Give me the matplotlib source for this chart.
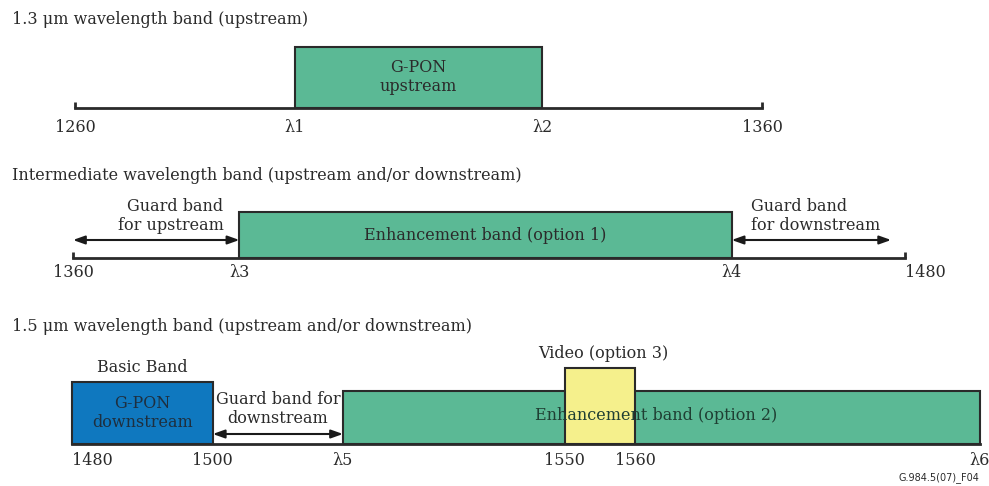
import matplotlib.pyplot as plt
from matplotlib.patches import Rectangle

# --- data (wavelengths in nm, lambda values) ---
row1_ticks = [1260, 1292, 1328, 1360]
row1_labels = ['1260', 'λ1', 'λ2', '1360']
gpon_up = (1292, 1328)

row2_ticks = [1360, 1384, 1455, 1480]
row2_labels = ['1360', 'λ3', 'λ4', '1480']
enh1 = (1384, 1455)
guard_up = (1360, 1384)
guard_down1 = (1455, 1478)

row3_ticks = [1480, 1500, 1518.5, 1550, 1560, 1609]
row3_labels = ['1480', '1500', 'λ5', '1550', '1560', 'λ6']
basic_band = (1480, 1500)
guard_down2 = (1500, 1518.5)
enh2 = (1518.5, 1609)
video = (1550, 1560)

titles = ['1.3 μm wavelength band (upstream)',
          'Intermediate wavelength band (upstream and/or downstream)',
          '1.5 μm wavelength band (upstream and/or downstream)']

GREEN = '#5bb995'
BLUE = '#0f78bf'
YELLOW = '#f5f08c'
EDGE = '#2a2a2a'
TXT = '#2b2b2b'

W, H = 989, 486
plt.rcParams['font.family'] = ['DejaVu Serif']
fs = 11.5

fig = plt.figure(figsize=(W / 100, H / 100), dpi=100)


def row_axes(left, right, base, ticks, labels, pad):
    # one axes per row, y measured in pixels above the baseline
    ax = fig.add_axes([left / W, 1 - base / H, (right - left) / W, 90 / H])
    ax.set_xlim(ticks[0], ticks[-1])
    ax.set_ylim(0, 90)
    for s in ['top', 'left', 'right']:
        ax.spines[s].set_visible(False)
    ax.spines['bottom'].set_linewidth(2)
    ax.spines['bottom'].set_color(EDGE)
    ax.set_yticks([])
    ax.set_xticks(ticks, labels=labels)
    ax.tick_params(axis='x', length=0, pad=pad, labelsize=fs, labelcolor=TXT)
    ax.patch.set_visible(False)
    return ax


def box(ax, band, h, color, z=2):
    ax.add_patch(Rectangle((band[0], 0), band[1] - band[0], h, facecolor=color,
                           edgecolor=EDGE, lw=1.5, zorder=z, clip_on=False))


def arrow(ax, band, y):
    ax.annotate('', xy=(band[1], y), xytext=(band[0], y),
                arrowprops=dict(arrowstyle='<|-|>,head_length=0.7,head_width=0.25',
                                color='#1a1a1a', lw=1.5, shrinkA=0, shrinkB=0))


def end_ticks(ax, ticks):
    ax.vlines([ticks[0], ticks[-1]], 0, 6, color=EDGE, lw=2, clip_on=False)


# --- row 1 ---
ax1 = row_axes(75, 762, 108, row1_ticks, row1_labels, 8)
end_ticks(ax1, row1_ticks)
box(ax1, gpon_up, 61, GREEN)
ax1.text(sum(gpon_up) / 2, 31, 'G-PON\nupstream', ha='center', va='center',
         fontsize=fs, color=TXT, linespacing=1.1, zorder=3)

# --- row 2 ---
ax2 = row_axes(73, 905, 258, row2_ticks, row2_labels, 4.5)
end_ticks(ax2, row2_ticks)
box(ax2, enh1, 46, GREEN)
ax2.text(sum(enh1) / 2, 23, 'Enhancement band (option 1)', ha='center', va='center',
         fontsize=fs, color=TXT, zorder=3)
arrow(ax2, guard_up, 18)
arrow(ax2, guard_down1, 18)
ax2.text(guard_up[1] - 2.3, 42, 'Guard band\nfor upstream', ha='right', va='center',
         fontsize=fs, color=TXT, linespacing=1.1)
ax2.text(guard_down1[0] + 2.8, 42, 'Guard band\nfor downstream', ha='left', va='center',
         fontsize=fs, color=TXT, linespacing=1.1)
ax2.get_xticklabels()[-1].set_ha('left')

# --- row 3 ---
ax3 = row_axes(72, 980, 444, row3_ticks, row3_labels, 5.5)
box(ax3, enh2, 53, GREEN, z=2)
box(ax3, video, 76, YELLOW, z=2.5)
box(ax3, basic_band, 62, BLUE)
ax3.text(sum(basic_band) / 2, 31, 'G-PON\ndownstream', ha='center', va='center',
         fontsize=fs, color='#1e2f3f', linespacing=1.1, zorder=3)
ax3.text(sum(basic_band) / 2, 76, 'Basic Band', ha='center', va='center',
         fontsize=fs, color=TXT)
arrow(ax3, guard_down2, 10)
ax3.text(sum(guard_down2) / 2, 35, 'Guard band for\ndownstream', ha='center', va='center',
         fontsize=fs, color=TXT, linespacing=1.1)
ax3.text(sum(video) / 2 + 0.5, 91, 'Video (option 3)', ha='center', va='center',
         fontsize=fs, color=TXT)
ax3.text(1563, 28, 'Enhancement band (option 2)', ha='center', va='center',
         fontsize=fs, color='#1f3f33', zorder=4)
ax3.get_xticklabels()[0].set_ha('left')

# --- titles and footer ---
for t, y in zip(titles, [20, 175, 326]):
    fig.text(12 / W, 1 - y / H, t, ha='left', va='center', fontsize=fs, color=TXT)
fig.text(979 / W, 1 - 478 / H, 'G.984.5(07)_F04', ha='right', va='center',
         fontsize=7, color=TXT, family='DejaVu Sans')

fig.savefig('out.png', dpi=100)
